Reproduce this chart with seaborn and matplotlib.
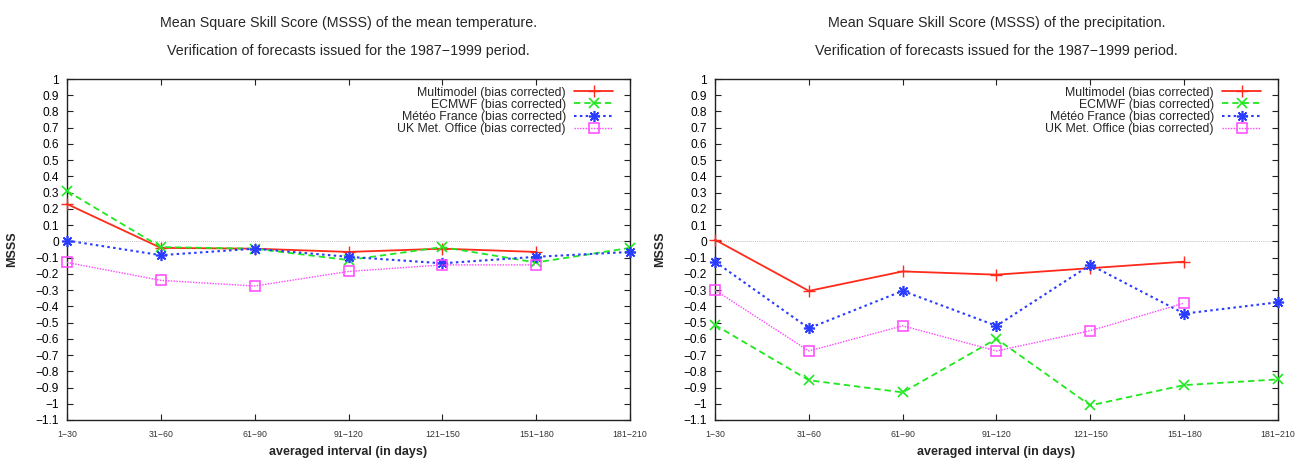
import numpy as np
import pandas as pd
import matplotlib
matplotlib.use("Agg")
import matplotlib.pyplot as plt
from matplotlib.ticker import FixedLocator, FuncFormatter
import seaborn as sns

# ---------------- data ----------------
intervals = ["1\u221230", "31\u221260", "61\u221290", "91\u2212120",
             "121\u2212150", "151\u2212180", "181\u2212210"]
series_names = ["Multimodel (bias corrected)", "ECMWF (bias corrected)",
                "M\u00e9t\u00e9o France (bias corrected)", "UK Met. Office (bias corrected)"]

temp_multimodel = [0.23, -0.04, -0.045, -0.065, -0.045, -0.065, np.nan]
temp_ecmwf = [0.31, -0.035, -0.045, -0.115, -0.035, -0.13, -0.04]
temp_meteofrance = [0.005, -0.085, -0.045, -0.095, -0.135, -0.095, -0.065]
temp_ukmo = [-0.13, -0.24, -0.275, -0.185, -0.145, -0.145, np.nan]

prec_multimodel = [0.01, -0.305, -0.185, -0.205, -0.165, -0.125, np.nan]
prec_ecmwf = [-0.515, -0.855, -0.93, -0.60, -1.01, -0.885, -0.85]
prec_meteofrance = [-0.125, -0.535, -0.305, -0.52, -0.145, -0.445, -0.375]
prec_ukmo = [-0.30, -0.675, -0.52, -0.675, -0.55, -0.38, np.nan]

titles = ["Mean Square Skill Score (MSSS) of the mean temperature.",
          "Mean Square Skill Score (MSSS) of the precipitation."]
subtitle = "Verification of forecasts issued for the 1987\u22121999 period."
xlabel = "averaged interval (in days)"
ylabel = "MSSS"
yticks = [round(v, 1) for v in np.arange(-1.1, 1.01, 0.1)]

# ---------------- style ----------------
sns.set_style("ticks")
plt.rcParams["font.family"] = ["Liberation Sans", "DejaVu Sans"]

styles = [
    dict(color="#ff2a1a", linestyle="-", lw=1.3, marker="+", ms=8, mew=1.0),
    dict(color="#1fe81f", linestyle=(0, (3.5, 2.2)), lw=1.3, marker="x", ms=7, mew=1.2),
    dict(color="#2a3cff", linestyle=(0, (1.2, 1.6)), lw=1.5, marker=(8, 2, 0), ms=8, mew=1.2),
    dict(color="#ff45ff", linestyle=(0, (1, 1)), lw=1.0, marker="s", ms=7, mew=1.1),
]

W, H = 1296, 458
fig = plt.figure(figsize=(W / 100, H / 100), dpi=100)

panels = [
    (67, [temp_multimodel, temp_ecmwf, temp_meteofrance, temp_ukmo], titles[0]),
    (715, [prec_multimodel, prec_ecmwf, prec_meteofrance, prec_ukmo], titles[1]),
]

xpos = np.arange(len(intervals))
ax_w = 563
top_px, bot_px = 79, 420

for left_px, data, title in panels:
    ax = fig.add_axes([left_px / W, 1 - bot_px / H, ax_w / W, (bot_px - top_px) / H])
    ax.axhline(0, color="#b0b0b0", lw=0.6, ls=(0, (1, 1.5)), zorder=0)
    for name, vals, st in zip(series_names, data, styles):
        df = pd.DataFrame({"x": xpos, "y": vals}).dropna()
        sns.lineplot(data=df, x="x", y="y", ax=ax, color=st["color"],
                     linestyle=st["linestyle"], lw=st["lw"], marker=st["marker"],
                     markersize=st["ms"], markeredgewidth=st["mew"],
                     markeredgecolor=st["color"], markerfacecolor="none",
                     label=name, clip_on=False, zorder=3)
    ax.set_xlim(0, len(intervals) - 1)
    ax.set_ylim(-1.1, 1.0)
    ax.xaxis.set_major_locator(FixedLocator(xpos))
    ax.set_xticklabels(intervals, fontsize=6.3, color="#333333")
    ax.yaxis.set_major_locator(FixedLocator(yticks))
    ax.yaxis.set_major_formatter(FuncFormatter(lambda v, p: ("%g" % round(v, 1)).replace("-", "\u2212")))
    ax.tick_params(axis="y", labelsize=8.6, colors="black")
    ax.tick_params(direction="in", top=True, right=True, length=4.5, width=0.8, color="#222222")
    ax.tick_params(axis="y", pad=6)
    ax.tick_params(axis="x", pad=7)
    for sp in ax.spines.values():
        sp.set_visible(True)
        sp.set_linewidth(1.0)
        sp.set_color("#222222")
    ax.set_xlabel(xlabel, fontsize=9, fontweight="bold", labelpad=5)
    ax.set_ylabel(ylabel, fontsize=9, fontweight="bold", labelpad=12)
    leg = ax.legend(loc="upper right", bbox_to_anchor=(0.975, 0.985), frameon=False,
                    markerfirst=False, fontsize=8.8, handlelength=3.2, handletextpad=0.7,
                    labelspacing=0.01, borderaxespad=0.0, borderpad=0.2)
    cx = (left_px + ax_w / 2) / W
    fig.text(cx, 1 - 23 / H, title, ha="center", va="center", fontsize=10.3)
    fig.text(cx, 1 - 51 / H, subtitle, ha="center", va="center", fontsize=10.3)

fig.savefig("out.png", dpi=100)
